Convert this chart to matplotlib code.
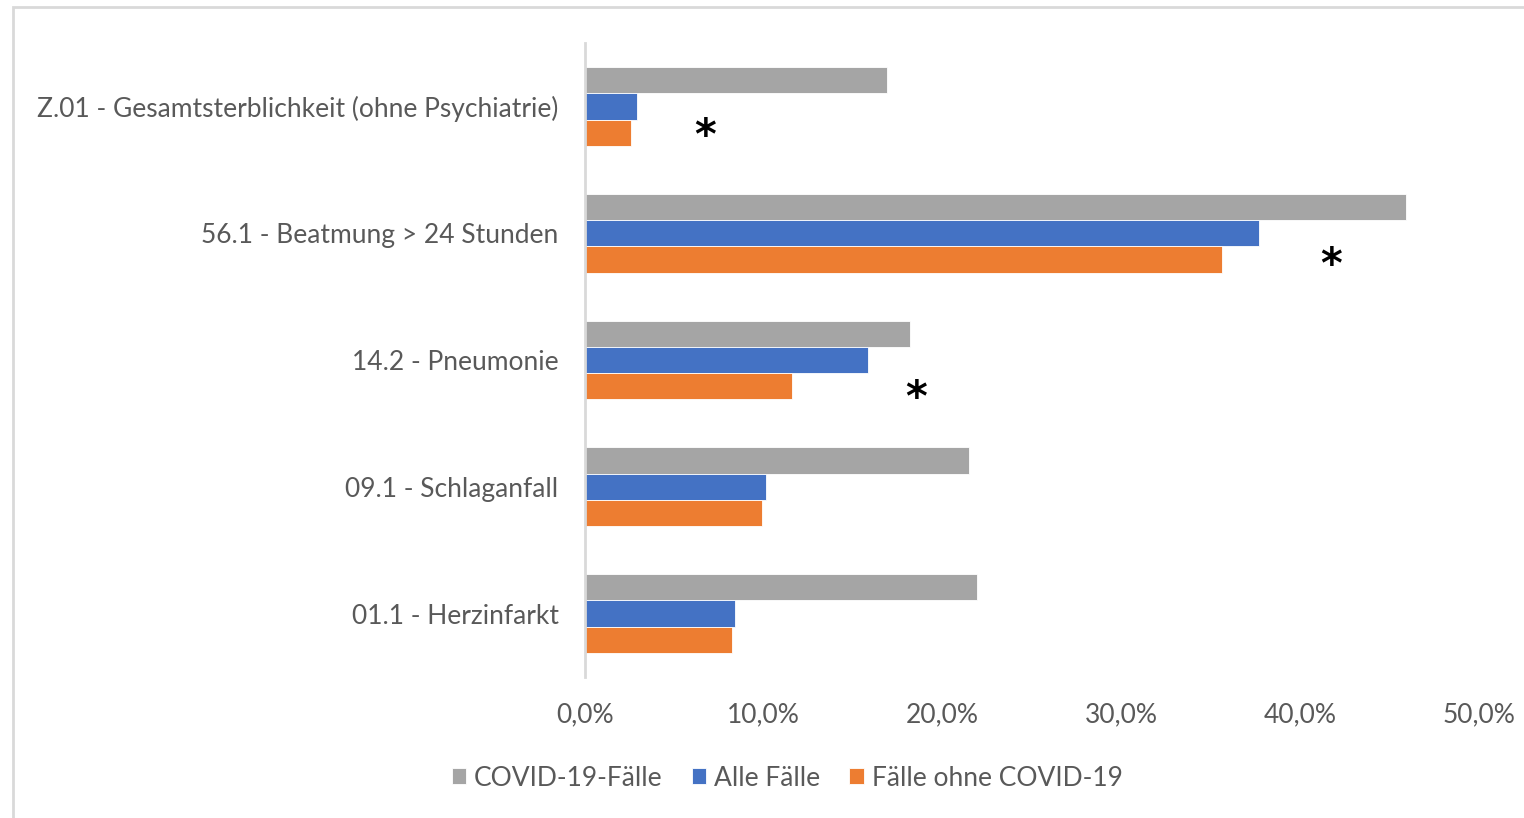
import matplotlib
matplotlib.use("Agg")
import matplotlib.pyplot as plt
from matplotlib.patches import Rectangle
from matplotlib.ticker import FuncFormatter
import numpy as np

plt.rcParams['font.family'] = ['Lato', 'DejaVu Sans']

categories = [
    "01.1 - Herzinfarkt",
    "09.1 - Schlaganfall",
    "14.2 - Pneumonie",
    "56.1 - Beatmung > 24 Stunden",
    "Z.01 - Gesamtsterblichkeit (ohne Psychiatrie)",
]
covid = [21.9, 21.5, 18.2, 45.9, 16.9]
alle = [8.4, 10.1, 15.8, 37.7, 2.9]
ohne = [8.2, 9.9, 11.6, 35.6, 2.6]
series_names = ["COVID-19-Fälle", "Alle Fälle", "Fälle ohne COVID-19"]
colors = ["#a5a5a5", "#4472c4", "#ed7d31"]

# significance markers: (x value in %, category index, vertical offset)
stars = [(6.7, 4, -0.17), (41.7, 3, -0.19), (18.5, 2, -0.24)]

W, H = 1524, 818
fig = plt.figure(figsize=(W / 100, H / 100), dpi=100)
ax = fig.add_axes([585 / W, 1 - 677 / H, (1479 - 585) / W, (677 - 43) / H])

y = np.arange(len(categories))
h = 0.207
for vals, off, col, name in zip([covid, alle, ohne], [h, 0, -h], colors, series_names):
    ax.barh(y + off, vals, height=h, color=col, edgecolor="white", linewidth=0.6, label=name)

for xv, ci, dy in stars:
    ax.text(xv, ci + dy - 0.07, "*", ha="center", va="center", fontsize=30,
            fontweight="bold", color="black", family="DejaVu Sans")

ax.set_xlim(0, 50)
ax.set_ylim(-0.5, len(categories) - 0.5)
ax.set_xticks(np.arange(0, 51, 10))
ax.xaxis.set_major_formatter(FuncFormatter(lambda v, p: f"{v:.1f}%".replace(".", ",")))
ax.set_yticks(y)
ax.set_yticklabels(categories)
ax.tick_params(axis="both", length=0, labelsize=19, colors="#595959")
ax.tick_params(axis="x", pad=18)
ax.tick_params(axis="y", pad=19)
for s in ["top", "right", "bottom"]:
    ax.spines[s].set_visible(False)
ax.spines["left"].set_color("#d9d9d9")
ax.spines["left"].set_linewidth(2)

leg = fig.legend(loc="center", bbox_to_anchor=(787 / W, 1 - 778 / H), ncol=3, frameon=False,
                 fontsize=19, handlelength=0.55, handleheight=0.55, handletextpad=0.3,
                 columnspacing=1.1, labelcolor="#595959")

fig.patches.append(Rectangle((13 / W, -0.1), 1.2, 1 - 7 / H + 0.1, transform=fig.transFigure,
                             fill=False, edgecolor="#d9d9d9", linewidth=2))

fig.savefig("out.png", dpi=100, facecolor="white")
